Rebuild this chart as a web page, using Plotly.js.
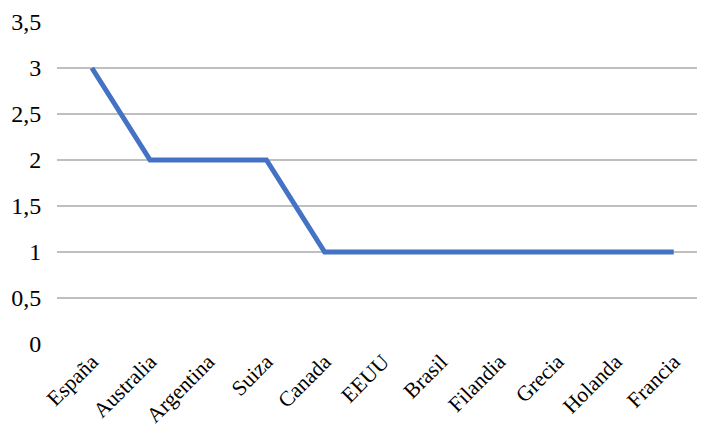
<!DOCTYPE html>
<html>
<head>
<meta charset="utf-8">
<script src="https://cdn.plot.ly/plotly-3.0.1.min.js"></script>
<style>html,body{margin:0;padding:0;background:#fff;}#chart{width:703px;height:430px;}</style>
</head>
<body>
<div id="chart"></div>
<script>
const categories = ["España","Australia","Argentina","Suiza","Canada","EEUU","Brasil","Filandia","Grecia","Holanda","Francia"];
const values = [3,2,2,2,1,1,1,1,1,1,1];
const yTicks = [0,0.5,1,1.5,2,2.5,3,3.5];

const trace = {
  x: categories,
  y: values,
  type: 'scatter',
  mode: 'lines',
  line: {color: '#4472C4', width: 5},
  hoverinfo: 'skip'
};
const layout = {
  width: 703, height: 430,
  margin: {l: 57, r: 6, t: 22, b: 86},
  paper_bgcolor: '#fff', plot_bgcolor: '#fff',
  separators: ',.',
  showlegend: false,
  font: {family: '"Liberation Serif", "Times New Roman", serif', color: '#000', size: 18},
  xaxis: {
    type: 'category',
    range: [-0.6, 10.4],
    tickangle: -45,
    showgrid: false, zeroline: false, showline: false,
    ticks: '',
    automargin: false,
    tickfont: {size: 21.5}
  },
  yaxis: {
    range: [0, 3.5],
    tickvals: yTicks,
    showgrid: true, gridcolor: '#BFBFBF', gridwidth: 1.3,
    zeroline: false, showline: false,
    ticks: 'outside', ticklen: 10, tickcolor: 'rgba(0,0,0,0)',
    automargin: false,
    tickfont: {size: 24}
  }
};
Plotly.newPlot('chart', [trace], layout, {displayModeBar: false, staticPlot: true});
</script>
</body>
</html>
